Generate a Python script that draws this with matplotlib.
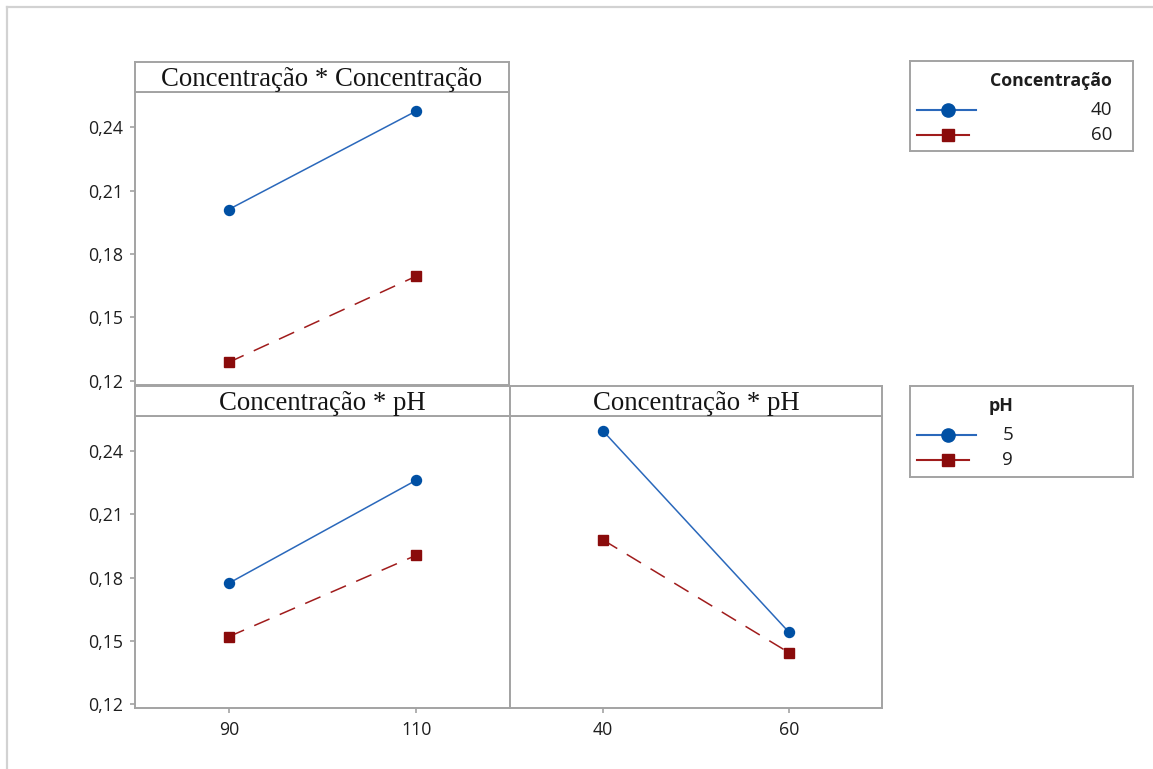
import matplotlib
matplotlib.use('Agg')
import matplotlib.pyplot as plt
from matplotlib.lines import Line2D
from matplotlib.ticker import FuncFormatter

# data
x_temp = [90, 110]
x_conc = [40, 60]
conc_levels = ['40', '60']
ph_levels = ['5', '9']

p1_conc40 = [0.2011, 0.2476]
p1_conc60 = [0.1287, 0.1694]
p2_ph5 = [0.1773, 0.2263]
p2_ph9 = [0.1519, 0.1906]
p3_ph5 = [0.2497, 0.1540]
p3_ph9 = [0.1979, 0.1443]

yticks = [0.12, 0.15, 0.18, 0.21, 0.24]
titles = ['Concentração * Concentração', 'Concentração * pH', 'Concentração * pH']

W, H = 1153, 769
BLUE_M, BLUE_L = '#0050a4', '#2a68bb'
RED_M, RED_L = '#8a0b0b', '#a01c1c'
FRAME = '#a3a3a3'
TXT = '#1e1e1e'

plt.rcParams['lines.scale_dashes'] = False
plt.rcParams['font.family'] = ['Open Sans', 'DejaVu Sans']

fig = plt.figure(figsize=(W / 100, H / 100), dpi=100)


def box(x0, y0, x1, y1):
    # rect from pixel coords (top-left origin)
    return [x0 / W, 1 - y1 / H, (x1 - x0) / W, (y1 - y0) / H]


def style_frame(ax):
    for s in ax.spines.values():
        s.set_color(FRAME)
        s.set_linewidth(1.4)


def panel(rect, strip, title, xs, blue, red, xlim, show_x, show_y):
    ax = fig.add_axes(box(*rect))
    ax.plot(xs, blue, color=BLUE_L, lw=1.1, marker='o', ms=7.2,
            mfc=BLUE_M, mec=BLUE_M, zorder=3)
    ax.plot(xs, red, color=RED_L, lw=1.1, dashes=(12, 8), marker='s', ms=6.6,
            mfc=RED_M, mec=RED_M, zorder=3)
    ax.set_xlim(*xlim)
    ax.set_ylim(0.118, 0.2568)
    ax.set_yticks(yticks)
    ax.yaxis.set_major_formatter(FuncFormatter(lambda v, p: f'{v:.2f}'.replace('.', ',')))
    ax.set_xticks(xs)
    ax.tick_params(axis='both', colors=FRAME, labelcolor=TXT, labelsize=12.8,
                   length=3.5, width=1.2)
    ax.tick_params(axis='y', pad=5)
    ax.tick_params(axis='x', pad=6)
    if not show_x:
        ax.tick_params(axis='x', bottom=False, labelbottom=False)
    if not show_y:
        ax.tick_params(axis='y', left=False, labelleft=False)
    style_frame(ax)

    st = fig.add_axes(box(*strip))
    st.set_xticks([])
    st.set_yticks([])
    style_frame(st)
    st.text(0.5, 0.42, title, ha='center', va='center', family='Liberation Serif',
            fontsize=19.3, color='#141414', transform=st.transAxes)
    return ax


panel((135, 92, 509, 385), (135, 62, 509, 92), titles[0], x_temp, p1_conc40, p1_conc60,
      (80, 120), False, True)
panel((135, 416, 510, 708), (135, 386, 510, 416), titles[1], x_temp, p2_ph5, p2_ph9,
      (80, 120), True, True)
panel((510, 416, 882, 708), (510, 386, 882, 416), titles[2], x_conc, p3_ph5, p3_ph9,
      (30, 70), True, False)


def legend_box(rect, title, labels, right):
    lg = fig.add_axes(box(*rect))
    w = rect[2] - rect[0]
    h = rect[3] - rect[1]
    lg.set_xlim(0, w)
    lg.set_ylim(h, 0)
    lg.set_xticks([])
    lg.set_yticks([])
    style_frame(lg)
    lg.text(right, 20, title, ha='right', va='center', fontsize=12.8,
            fontweight='bold', color=TXT)
    lg.add_line(Line2D([7, 38, 66], [49, 49, 49], color=BLUE_L, lw=1.5,
                       marker='o', markevery=[1], ms=9.5, mfc=BLUE_M, mec=BLUE_M))
    lg.add_line(Line2D([7, 38, 59], [74, 74, 74], color=RED_L, lw=1.5,
                       marker='s', markevery=[1], ms=9, mfc=RED_M, mec=RED_M))
    lg.text(right, 49, labels[0], ha='right', va='center', fontsize=13.5, color=TXT)
    lg.text(right, 74, labels[1], ha='right', va='center', fontsize=13.5, color=TXT)


legend_box((910, 61, 1133, 151), 'Concentração', conc_levels, 202)
legend_box((910, 386, 1133, 477), 'pH', ph_levels, 103)

# light window border at top and left
fig.add_artist(Line2D([7 / W, 1], [1 - 7 / H, 1 - 7 / H], transform=fig.transFigure,
                      color='#d2d2d2', lw=1.6))
fig.add_artist(Line2D([7 / W, 7 / W], [0, 1 - 7 / H], transform=fig.transFigure,
                      color='#d2d2d2', lw=1.6))

fig.savefig('out.png', dpi=100)
